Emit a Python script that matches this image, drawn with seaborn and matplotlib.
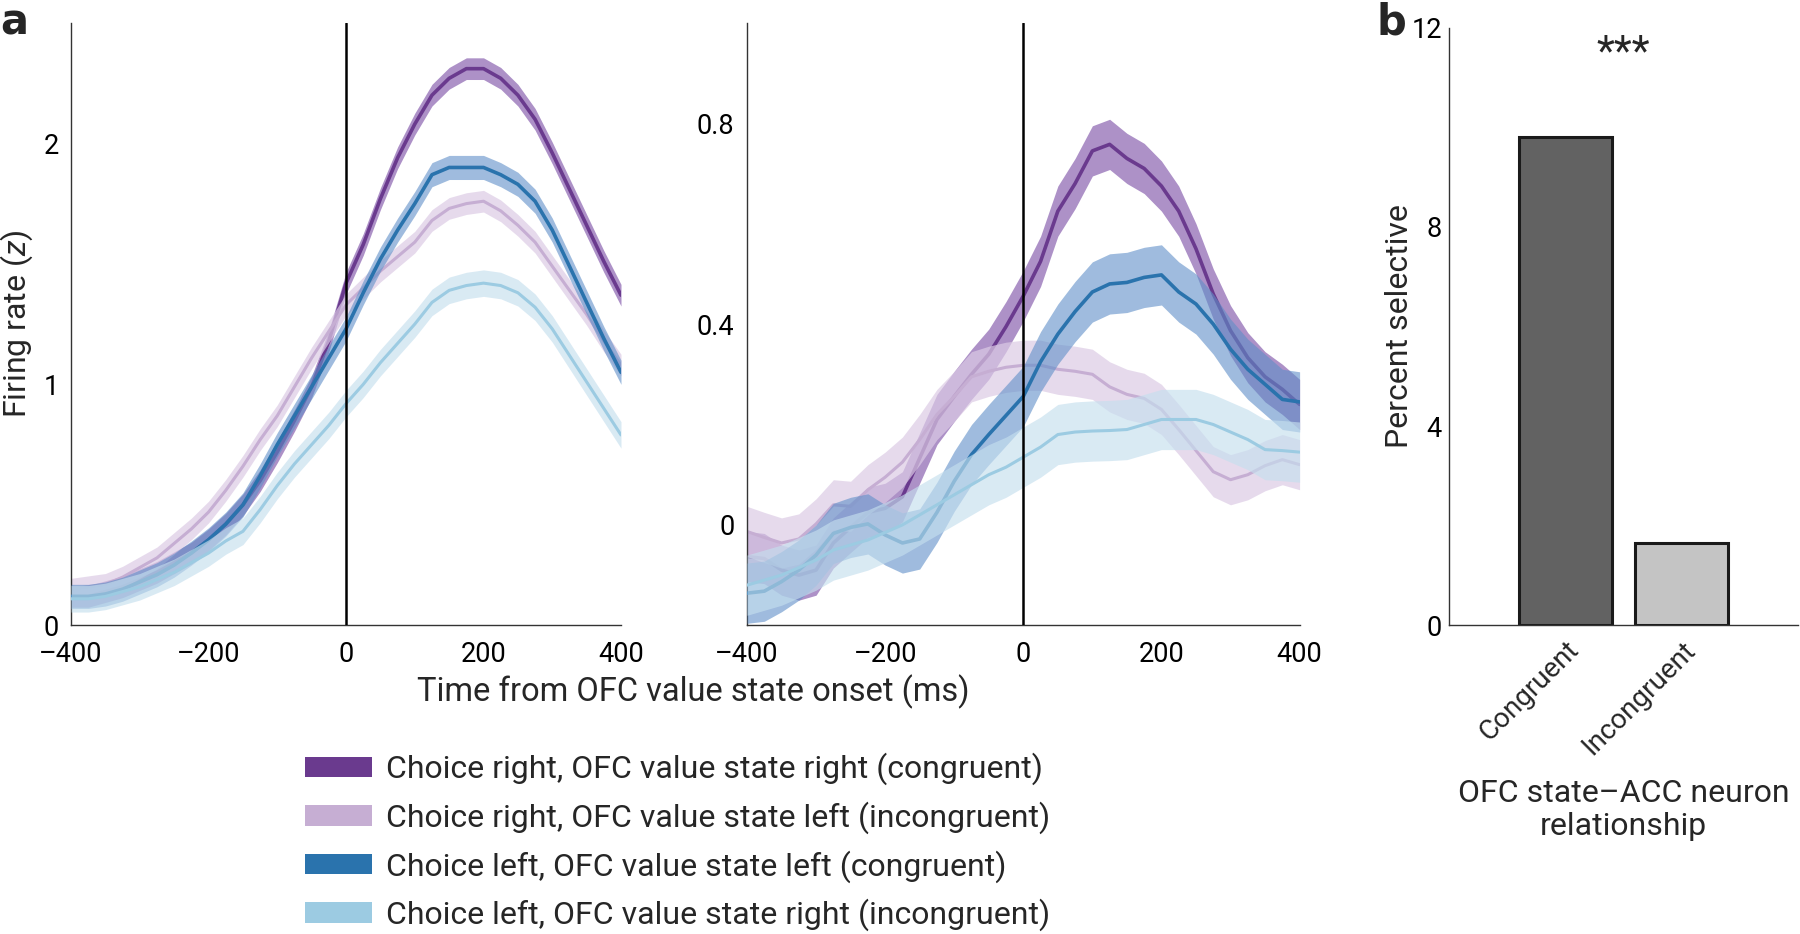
import matplotlib
matplotlib.use("Agg")
import matplotlib.pyplot as plt
from matplotlib.patches import Patch
import pandas as pd
import seaborn as sns

# values (firing rate in z, time in ms)
time_ms = [-400, -375, -350, -325, -300, -275, -250, -225, -200, -175, -150, -125, -100, -75, -50, -25,
           0, 25, 50, 75, 100, 125, 150, 175, 200, 225, 250, 275, 300, 325, 350, 375, 400]

conditions = [
    "Choice right, OFC value state right (congruent)",
    "Choice right, OFC value state left (incongruent)",
    "Choice left, OFC value state left (congruent)",
    "Choice left, OFC value state right (incongruent)",
]

# panel a, left
left_rr = [0.12, 0.12, 0.14, 0.16, 0.19, 0.22, 0.26, 0.30, 0.355, 0.42, 0.50, 0.60, 0.72, 0.85, 0.99, 1.18,
           1.42, 1.58, 1.77, 1.94, 2.08, 2.20, 2.27, 2.31, 2.31, 2.27, 2.20, 2.10, 1.96, 1.81, 1.66, 1.51, 1.37]
left_rl = [0.15, 0.16, 0.17, 0.20, 0.24, 0.28, 0.34, 0.40, 0.47, 0.56, 0.66, 0.77, 0.87, 0.99, 1.11, 1.22,
           1.33, 1.40, 1.47, 1.53, 1.59, 1.68, 1.73, 1.75, 1.76, 1.72, 1.66, 1.59, 1.49, 1.39, 1.29, 1.18, 1.08]
left_ll = [0.12, 0.12, 0.13, 0.15, 0.18, 0.21, 0.25, 0.30, 0.355, 0.42, 0.50, 0.62, 0.75, 0.87, 0.99, 1.11,
           1.23, 1.38, 1.52, 1.64, 1.75, 1.87, 1.90, 1.90, 1.90, 1.87, 1.83, 1.76, 1.64, 1.49, 1.34, 1.19, 1.05]
left_lr = [0.11, 0.11, 0.12, 0.14, 0.16, 0.19, 0.22, 0.26, 0.30, 0.35, 0.39, 0.48, 0.58, 0.67, 0.75, 0.83,
           0.92, 1.00, 1.09, 1.17, 1.25, 1.34, 1.39, 1.41, 1.42, 1.41, 1.38, 1.32, 1.23, 1.12, 1.01, 0.90, 0.79]
left_sem = [0.045, 0.045, 0.05, 0.055]

# panel a, right
mid_rr = [-0.063, -0.067, -0.09, -0.10, -0.09, -0.036, -0.005, 0.025, 0.033, 0.056, 0.133, 0.21, 0.256, 0.30,
          0.34, 0.395, 0.456, 0.525, 0.625, 0.68, 0.745, 0.758, 0.73, 0.71, 0.675, 0.625, 0.55, 0.46, 0.387,
          0.333, 0.295, 0.27, 0.24]
mid_rl = [-0.013, -0.025, -0.036, -0.028, 0.002, 0.04, 0.037, 0.07, 0.095, 0.125, 0.17, 0.22, 0.256, 0.295,
          0.306, 0.314, 0.318, 0.318, 0.31, 0.306, 0.30, 0.275, 0.26, 0.252, 0.23, 0.19, 0.148, 0.106, 0.09,
          0.10, 0.118, 0.13, 0.12]
mid_ll = [-0.136, -0.132, -0.113, -0.09, -0.06, -0.017, -0.005, 0.002, -0.02, -0.036, -0.028, 0.025, 0.087,
          0.14, 0.18, 0.218, 0.256, 0.325, 0.38, 0.425, 0.464, 0.48, 0.483, 0.493, 0.498, 0.464, 0.44, 0.40,
          0.35, 0.31, 0.28, 0.25, 0.245]
mid_lr = [-0.12, -0.11, -0.10, -0.085, -0.07, -0.05, -0.04, -0.03, -0.015, 0.0, 0.02, 0.04, 0.06, 0.08, 0.10,
          0.115, 0.135, 0.155, 0.18, 0.185, 0.187, 0.188, 0.19, 0.20, 0.21, 0.21, 0.21, 0.20, 0.185, 0.17,
          0.15, 0.148, 0.145]
mid_sem = [0.05, 0.05, 0.06, 0.06]

# panel b
relationship = ["Congruent", "Incongruent"]
percent_selective = [9.8, 1.65]

line_colors = ["#6a3a8e", "#c6aed3", "#2a73ad", "#9ccbe2"]
band_colors = ["#8a62b0", "#dccbe5", "#5f8fc8", "#c5dfee"]
band_alpha = [0.7, 0.7, 0.6, 0.65]
line_widths = [2.6, 2.2, 2.6, 2.2]
bar_colors = ["#626262", "#c4c4c4"]

panels = {"left": [left_rr, left_rl, left_ll, left_lr], "mid": [mid_rr, mid_rl, mid_ll, mid_lr]}
panel_sem = {"left": left_sem, "mid": mid_sem}

rows = []
for panel, series in panels.items():
    for cond, vals, sem in zip(conditions, series, panel_sem[panel]):
        for t, v in zip(time_ms, vals):
            rows.append({"panel": panel, "condition": cond, "time": t, "rate": v, "sem": sem})
traces = pd.DataFrame(rows)

sns.set_theme(style="white")
plt.rcParams["font.family"] = ["Roboto", "DejaVu Sans"]
plt.rcParams["mathtext.fontset"] = "custom"
plt.rcParams["mathtext.rm"] = "Roboto"
plt.rcParams["mathtext.it"] = "Roboto:italic"
plt.rcParams["axes.linewidth"] = 1.0
plt.rcParams["axes.edgecolor"] = "#333333"

fig = plt.figure(figsize=(18, 9.34), dpi=100)
ax_l = fig.add_axes([0.0395, 0.3305, 0.3055, 0.645])
ax_m = fig.add_axes([0.415, 0.3305, 0.307, 0.645])
ax_b = fig.add_axes([0.805, 0.3305, 0.194, 0.640])


def draw_traces(ax, panel):
    sub = traces[traces["panel"] == panel]
    for i, cond in enumerate(conditions):
        d = sub[sub["condition"] == cond]
        ax.fill_between(d["time"], d["rate"] - d["sem"], d["rate"] + d["sem"],
                        color=band_colors[i], alpha=band_alpha[i], linewidth=0, zorder=1 + i)
        sns.lineplot(data=d, x="time", y="rate", ax=ax, color=line_colors[i],
                     linewidth=line_widths[i], zorder=1.5 + i, legend=False)
    ax.axvline(0, color="black", linewidth=1.8, zorder=10)
    ax.set_xlim(-400, 400)
    ax.set_xticks([-400, -200, 0, 200, 400])
    ax.set_xticklabels(["\u2013400", "\u2013200", "0", "200", "400"])
    ax.set_xlabel("")
    ax.set_ylabel("")
    sns.despine(ax=ax)
    ax.tick_params(direction="in", length=7, width=1.0, labelsize=19.5, colors="#333333", pad=9)
    ax.tick_params(axis="x", pad=11)
    ax.tick_params(axis="both", labelcolor="black")


draw_traces(ax_l, "left")
ax_l.set_ylim(0, 2.5)
ax_l.set_yticks([0, 0.5, 1, 1.5, 2, 2.5])
ax_l.set_yticklabels(["0", "", "1", "", "2", ""])
ax_l.set_ylabel("Firing rate ($z$)", fontsize=23, labelpad=6)

draw_traces(ax_m, "mid")
ax_m.set_ylim(-0.2, 1.0)
ax_m.set_yticks([-0.2, 0, 0.2, 0.4, 0.6, 0.8, 1.0])
ax_m.set_yticklabels(["", "0", "", "0.4", "", "0.8", ""])

fig.text(0.385, 0.259, "Time from OFC value state onset (ms)", ha="center", va="center", fontsize=23.5)

# panel b bars
bars = pd.DataFrame({"relationship": relationship, "percent": percent_selective})
sns.barplot(data=bars, x="relationship", y="percent", hue="relationship", palette=bar_colors,
            edgecolor="#1a1a1a", linewidth=2.2, width=0.8, legend=False, ax=ax_b)
ax_b.set_xlim(-1, 2)
ax_b.set_ylim(0, 12)
ax_b.set_yticks([0, 2, 4, 6, 8, 10, 12])
ax_b.set_yticklabels(["0", "", "4", "", "8", "", "12"])
sns.despine(ax=ax_b)
ax_b.tick_params(axis="y", direction="in", length=7, width=1.0, labelsize=19.5, pad=5, colors="#333333",
                 labelcolor="black")
ax_b.tick_params(axis="x", length=0, pad=8)
for lab in ax_b.get_xticklabels():
    lab.set_rotation(45)
    lab.set_ha("right")
    lab.set_rotation_mode("anchor")
    lab.set_fontsize(20)
ax_b.set_ylabel("Percent selective", fontsize=23, labelpad=-2)
ax_b.set_xlabel("OFC state\u2013ACC neuron\nrelationship", fontsize=23, labelpad=14, linespacing=1.15)
ax_b.text(0.5, 11.5, "***", ha="center", va="center", fontsize=30)

fig.text(0.0, 0.998, "a", fontsize=30, fontweight="heavy", family="DejaVu Sans", ha="left", va="top")
fig.text(0.765, 0.998, "b", fontsize=30, fontweight="heavy", family="DejaVu Sans", ha="left", va="top")

handles = [Patch(facecolor=c, edgecolor="none") for c in line_colors]
fig.legend(handles, conditions, loc="upper left", bbox_to_anchor=(0.1696, 0.194),
           frameon=False, handlelength=2.1, handleheight=0.6, handletextpad=0.42,
           labelspacing=0.5, prop={"size": 23}, borderaxespad=0, borderpad=0)

fig.savefig("out.png", dpi=100)
